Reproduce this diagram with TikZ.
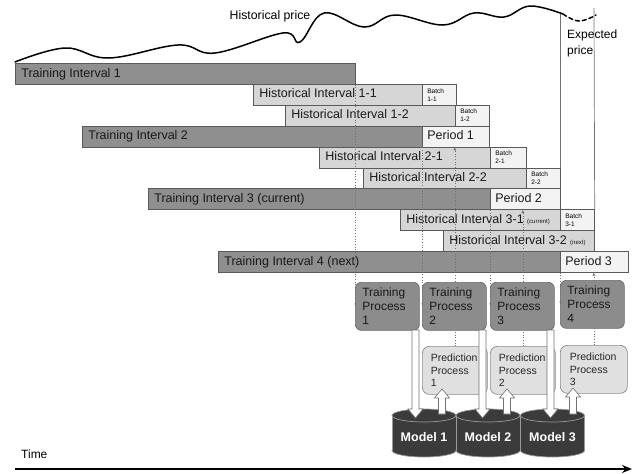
\documentclass[tikz,border=0pt]{standalone}
\usepackage{fontspec}
\setmainfont{Liberation Sans}
\usetikzlibrary{arrows.meta}
\definecolor{tigray}{HTML}{8F8F8F}
\definecolor{hgray}{HTML}{D6D6D6}
\definecolor{pgray}{HTML}{F3F3F3}
\definecolor{bordc}{HTML}{5A5A5A}
\definecolor{tpfill}{HTML}{8C8C8C}
\definecolor{tpdraw}{HTML}{6A6A6A}
\definecolor{ppfill}{HTML}{E0E0E0}
\definecolor{ppdraw}{HTML}{8A8A8A}
\definecolor{cylfillc}{HTML}{3B3B3B}
\definecolor{cyldraw}{HTML}{9A9A9A}
\definecolor{dotc}{HTML}{707070}
\pgfdeclarelayer{back}
\pgfdeclarelayer{dots}
\pgfdeclarelayer{front}
\pgfsetlayers{back,main,dots,front}
\newcommand\barlbl[2]{\makebox[#1pt][l]{#2}}
\newcommand\blkdown[3]{\draw[blk] (#1-3.5,#2) -- (#1-3.5,#3-9) -- (#1-7.5,#3-9) -- (#1,#3) -- (#1+7.5,#3-9) -- (#1+3.5,#3-9) -- (#1+3.5,#2) -- cycle;}
\newcommand\blkup[3]{\draw[blk] (#1-3.5,#2) -- (#1-3.5,#3+9) -- (#1-7.5,#3+9) -- (#1,#3) -- (#1+7.5,#3+9) -- (#1+3.5,#3+9) -- (#1+3.5,#2) -- cycle;}
\newcommand\cylshape[1]{%
  \filldraw[cylst] (#1,450.5) ellipse [x radius=32pt, y radius=6.5pt];
  \fill[cylfillc] (#1-32,415.5) rectangle (#1+32,450.5);
  \draw[cylst] (#1-32,415.5) -- (#1-32,450.5) (#1+32,415.5) -- (#1+32,450.5);
  \filldraw[cylst] (#1,415.5) ellipse [x radius=32pt, y radius=6.5pt];}
\begin{document}
\begin{tikzpicture}[x=1pt,y=-1pt,
  lbl/.style={inner sep=0pt, font=\fontsize{12.3}{14}\selectfont},
  wave/.style={line width=1.5pt, black, line cap=round},
  vline/.style={draw=black!55, line width=0.7pt},
  bx/.style={draw=bordc, line width=0.7pt, inner xsep=6pt, inner ysep=0pt, minimum height=20.9pt, anchor=north west, font=\fontsize{12.5}{14}\selectfont, text height=9.5pt, text depth=3pt, text=black!90},
  tibar/.style={bx, fill=tigray},
  hbar/.style={bx, fill=hgray},
  pbar/.style={bx, fill=pgray, inner xsep=5pt},
  batch/.style={draw=bordc, line width=0.7pt, fill=pgray, inner xsep=5pt, inner ysep=0pt, minimum height=20.9pt, anchor=north west, align=left, font=\fontsize{6.5}{8}\selectfont},
  tpbox/.style={draw=tpdraw, fill=tpfill, line width=0.7pt, rounded corners=6pt, anchor=north west, minimum height=48pt, text width=50pt, inner xsep=7pt, inner ysep=0pt, align=left, font=\fontsize{12}{14}\selectfont, text=black!90},
  ppbox/.style={draw=ppdraw, fill=ppfill, line width=0.7pt, rounded corners=7pt, anchor=north west, minimum height=48pt, text width=48pt, inner xsep=8.5pt, inner ysep=0pt, align=left, font=\fontsize{10.5}{12.7}\selectfont, text=black!85},
  dotline/.style={draw=dotc, dotted, line width=0.7pt},
  tip/.style={-{Latex[length=3pt,width=3pt]}},
  blk/.style={draw=black!55, fill=white, line width=0.6pt, line join=miter},
  cylst/.style={draw=cyldraw, fill=cylfillc, line width=0.7pt},
  modeltxt/.style={inner sep=0pt, text=white, font=\fontsize{12.5}{14}\selectfont\bfseries},
  axis/.style={line width=1.6pt, -{Stealth[length=10pt,width=8pt]}}
]
\useasboundingbox (0,0) rectangle (633,474);

% texts at top
\node[lbl] (hp) at (270,16) {Historical price};
\node[lbl, anchor=west, align=left, font=\fontsize{12}{16.5}\selectfont] (ep) at (567,43.5) {Expected\\price};

% price curve
\draw[wave] plot[smooth, tension=0.65] coordinates {(15,62) (65,48) (109,58) (178,45) (215,53) (283,33) (300,42) (324,13) (364,27) (395,15) (443,25) (474,13) (504,17) (530,6) (563,14)};
\draw[wave, dash pattern=on 4pt off 3pt] plot[smooth, tension=0.7] coordinates {(563,14) (579,21) (596,15)};

% interval bars
\node[tibar] (ti1) at (15,63)    {\barlbl{328}{Training Interval 1}};
\node[hbar]  (h11) at (253,83.9) {\barlbl{157}{Historical Interval 1-1}};
\node[batch, text width=24pt] (b11) at (422,83.9) {Batch\\1-1};
\node[hbar]  (h12) at (285,104.8) {\barlbl{158}{Historical Interval 1-2}};
\node[batch, text width=24pt] (b12) at (455,104.8) {Batch\\1-2};
\node[tibar] (ti2) at (82,125.7) {\barlbl{328}{Training Interval 2}};
\node[pbar]  (p1) at (422,125.7) {\barlbl{57}{Period 1}};
\node[hbar]  (h21) at (319,146.6) {\barlbl{159}{Historical Interval 2-1}};
\node[batch, text width=26pt] (b21) at (490,146.6) {Batch\\2-1};
\node[hbar]  (h22) at (363,167.5) {\barlbl{151}{Historical Interval 2-2}};
\node[batch, text width=24pt] (b22) at (526,167.5) {Batch\\2-2};
\node[tibar] (ti3) at (148,188.4) {\barlbl{330}{Training Interval 3 (current)}};
\node[pbar]  (p2) at (490,188.4) {\barlbl{60}{Period 2}};
\node[hbar]  (h31) at (400,209.3) {\barlbl{148}{Historical Interval 3-1 {\fontsize{6}{7}\selectfont(current)}}};
\node[batch, text width=24pt] (b31) at (560,209.3) {Batch\\3-1};
\node[hbar]  (h32) at (443,230.2) {\barlbl{139}{Historical Interval 3-2 {\fontsize{6}{7}\selectfont(next)}}};
\node[tibar] (ti4) at (218,251.1) {\barlbl{330}{Training Interval 4 (next)}};
\node[pbar]  (p3) at (560,251.1) {\barlbl{58}{Period 3}};

% expected price boundary lines
\begin{pgfonlayer}{back}
\coordinate (v1) at (560,13);
\coordinate (v2) at (594,8);
\draw[vline] (v1) -- (b31.north west);
\draw[vline] (v2) -- (b31.north east);
\end{pgfonlayer}

% processes, models, block arrows
\begin{pgfonlayer}{front}
\node[tpbox] (tp1) at (355,282) {Training\\Process\\1};
\node[tpbox] (tp2) at (422,282) {Training\\Process\\2};
\node[tpbox] (tp3) at (490,282) {Training\\Process\\3};
\node[tpbox] (tp4) at (560,280) {Training\\Process\\4};
\node[ppbox] (pp1) at (422,346) {Prediction\\Process\\1};
\node[ppbox] (pp2) at (490,346) {Prediction\\Process\\2};
\node[ppbox, minimum width=67pt] (pp3) at (560,345) {Prediction\\Process\\3};
\cylshape{424}
\node[modeltxt] (m1) at (424,437) {Model 1};
\cylshape{488}
\node[modeltxt] (m2) at (488,437) {Model 2};
\cylshape{552.5}
\node[modeltxt] (m3) at (552.5,437) {Model 3};
\blkdown{415.5}{330}{418}
\blkdown{482.5}{330}{418}
\blkdown{550.5}{330}{418}
\blkup{442}{414}{389}
\blkup{507}{414}{389}
\blkup{573}{414}{388}
\end{pgfonlayer}

% dotted connectors
\begin{pgfonlayer}{dots}
\draw[dotline, tip] (ti1.south east) -- (ti1.south east |- tp1.west);
\draw[dotline, tip] (ti2.south east) -- (ti2.south east |- tp2.west);
\draw[dotline, tip] (ti3.south east) -- (ti3.south east |- tp3.west);
\draw[dotline, tip] (ti4.south east) -- (ti4.south east |- tp4.west);
\draw[dotline, tip] (pp1.north) -- (pp1.north |- p1.south);
\draw[dotline, tip] (pp2.north) -- (pp2.north |- p2.south);
\draw[dotline, tip] (pp3.north) -- (pp3.north |- p3.south);
\end{pgfonlayer}

% time axis
\coordinate (t0) at (15,469);
\coordinate (t1) at (632,469);
\draw[axis] (t0) -- (t1);
\node[lbl, anchor=west, font=\fontsize{12}{14}\selectfont] (time) at (21,454) {Time};
\end{tikzpicture}
\end{document}
